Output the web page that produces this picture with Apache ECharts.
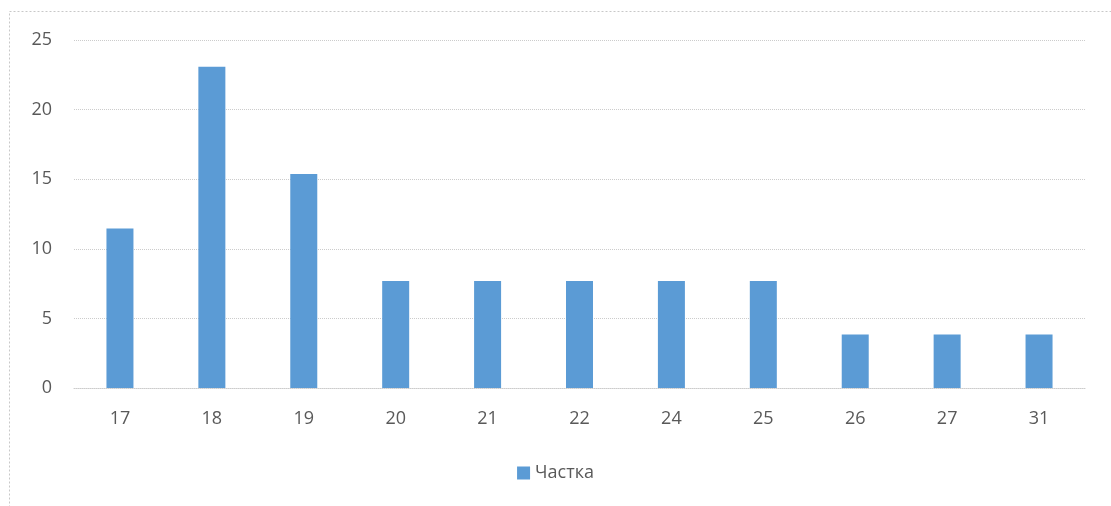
<!DOCTYPE html>
<html><head><meta charset="utf-8">
<script src="https://cdn.jsdelivr.net/npm/echarts@6/dist/echarts.min.js"></script>
<style>html,body{margin:0;padding:0;background:#fff}#c{width:1111px;height:506px}</style>
</head><body><div id="c"></div>
<script>
const categories = ['17','18','19','20','21','22','24','25','26','27','31'];
const values = [11.46, 23.08, 15.38, 7.69, 7.69, 7.69, 7.69, 7.69, 3.85, 3.85, 3.85];
const seriesName = 'Частка';
const chart = echarts.init(document.getElementById('c'));
chart.setOption({
  animation: false,
  backgroundColor: '#fff',
  graphic: [{type:'rect', shape:{x:9.5,y:11.5,width:1200,height:600}, style:{fill:'none', stroke:'#c8c8c8', lineWidth:1, lineDash:[2,2]}, silent:true}],
  grid: {left:74, right:26, top:40, bottom:118},
  legend: {bottom:19, left:'center', itemWidth:13, itemHeight:13, icon:'rect', itemGap:6,
    textStyle:{color:'#595959', fontSize:18, fontFamily:'Open Sans, sans-serif'}, data:[seriesName]},
  xAxis: {type:'category', data:categories,
    axisLine:{lineStyle:{color:'#cccccc', type:'dotted'}}, axisTick:{show:false},
    axisLabel:{color:'#595959', fontSize:18, margin:22, fontFamily:'Open Sans, sans-serif'}},
  yAxis: {type:'value', min:0, max:25, interval:5,
    axisLine:{show:false}, axisTick:{show:false},
    axisLabel:{color:'#595959', fontSize:18, margin:22, fontFamily:'Open Sans, sans-serif'},
    splitLine:{lineStyle:{color:'#cccccc', type:'dotted'}}},
  series: [{name:seriesName, type:'bar', data:values, barWidth:27,
    itemStyle:{color:'#5b9bd5'}}]
});
</script></body></html>
